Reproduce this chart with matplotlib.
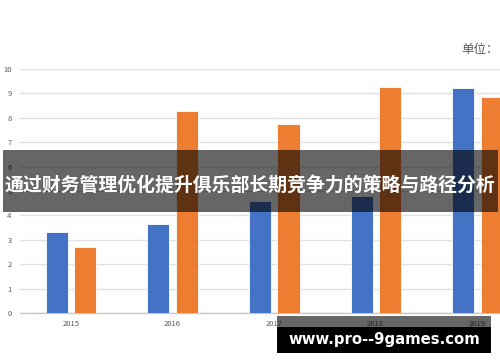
import matplotlib.pyplot as plt
import numpy as np

plt.rcParams['font.family'] = ['Noto Sans CJK SC', 'DejaVu Sans']

years = ["2015", "2016", "2017", "2018", "2019"]
series_a = [3.31, 3.63, 4.59, 4.80, 9.23]
series_b = [2.72, 8.28, 7.75, 9.27, 8.86]
yticks = [0, 1, 2, 3, 4, 5, 6, 7, 8, 9, 10]
title = "通过财务管理优化提升俱乐部长期竞争力的策略与路径分析"
unit_label = "单位："
watermark = "www.pro--9games.com"

fig = plt.figure(figsize=(5, 3.62), dpi=100)
ax = fig.add_axes([0.04, 0.1354, 1.02, 0.674])

x = np.arange(len(years))
w = 0.217
ax.bar(x - 0.138, series_a, w, color="#4472C4", edgecolor="white", linewidth=0.6, zorder=3)
ax.bar(x + 0.143, series_b, w, color="#ED7D31", edgecolor="white", linewidth=0.6, zorder=3)

ax.set_xlim(-0.5, 4.52)
ax.set_ylim(0, 10)
ax.set_yticks(yticks)
ax.set_xticks(x)
ax.set_xticklabels(years)
ax.tick_params(axis="both", length=0, labelsize=5.5, colors="#595959")
ax.tick_params(axis="y", pad=6)
ax.tick_params(axis="x", pad=5)
ax.grid(axis="y", color="#e0e0e0", linewidth=1.0, zorder=0)
for s in ["top", "right", "left"]:
    ax.spines[s].set_visible(False)
ax.spines["bottom"].set_color("#c8c8c8")
ax.spines["bottom"].set_linewidth(1.0)

fig.text(0.922, 0.862, unit_label, fontsize=9, color="#595959", ha="left", va="center")

# title banner
fig.patches.append(plt.Rectangle((0.006, 0.414), 0.99, 0.171, transform=fig.transFigure,
                                 facecolor="black", edgecolor="none", alpha=0.6, zorder=10))
fig.text(0.5, 0.489, title, fontsize=13.6, color="white", fontweight="bold",
         ha="center", va="center", zorder=11)

# watermark
fig.patches.append(plt.Rectangle((0.554, 0.097), 0.428, 0.03, transform=fig.transFigure,
                                 facecolor="black", edgecolor="none", alpha=0.6, zorder=10))
fig.patches.append(plt.Rectangle((0.554, 0.025), 0.428, 0.072, transform=fig.transFigure,
                                 facecolor="black", edgecolor="none", zorder=10))
fig.text(0.768, 0.061, watermark, fontsize=10.7, color="white", fontweight="bold",
         family="DejaVu Sans", ha="center", va="center", zorder=11)

fig.savefig("out.png", dpi=100)
